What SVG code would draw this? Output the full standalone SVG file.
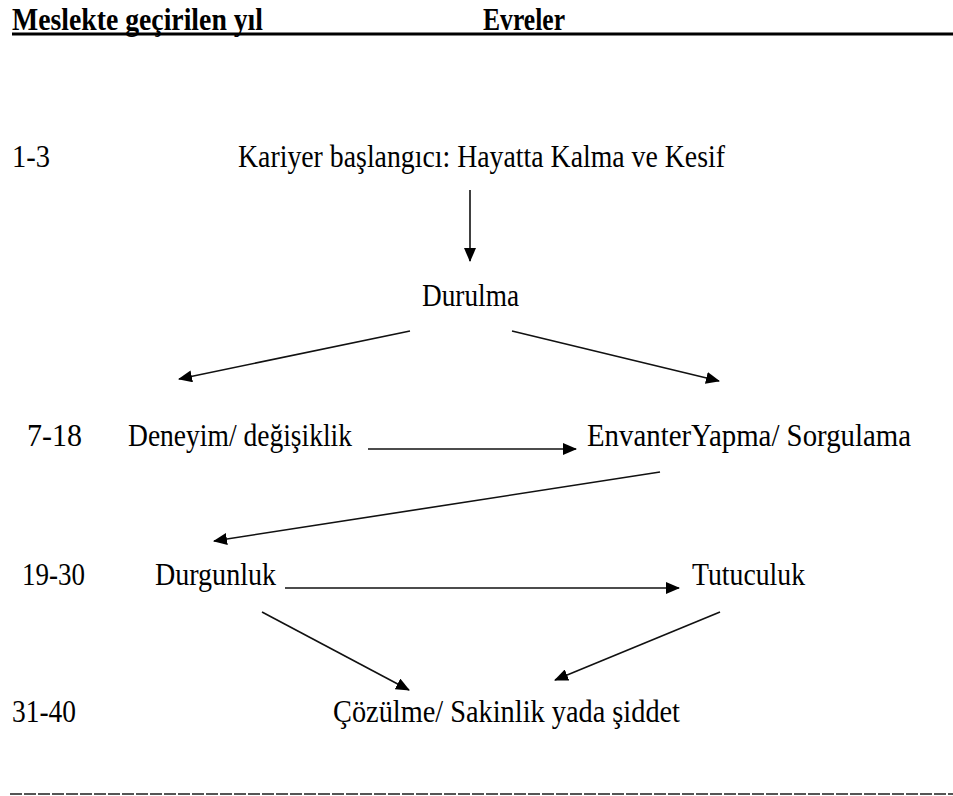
<svg xmlns="http://www.w3.org/2000/svg" width="953" height="796" viewBox="0 0 953 796">
  <style>
    text { font-family: Liberation Serif, Tinos, serif; fill: #000; }
    .t { font-size: 31px; }
    .h { font-size: 32px; font-weight: bold; }
    .c { stroke: #111; stroke-width: 1.6; fill: none; marker-end: url(#ah); }
  </style>
  <defs>
    <marker id="ah" markerWidth="14" markerHeight="12" refX="13" refY="6" orient="auto" markerUnits="userSpaceOnUse">
      <path d="M0,0 L14,6 L0,12 Z" fill="#000"/>
    </marker>
  </defs>
  <rect width="953" height="796" fill="#fff"/>

  <!-- header row -->
  <g id="header" font-family="Liberation Serif">
    <text class="h" x="12" y="30" textLength="251" lengthAdjust="spacingAndGlyphs">Meslekte geçirilen yıl</text>
    <text class="h" x="483" y="30" textLength="82" lengthAdjust="spacingAndGlyphs">Evreler</text>
    <line x1="12" y1="34" x2="953" y2="34" stroke="#000" stroke-width="3"/>
  </g>

  <!-- year labels -->
  <g id="years" font-family="Liberation Serif">
    <text class="t" x="12" y="167" textLength="38" lengthAdjust="spacingAndGlyphs">1-3</text>
    <text class="t" x="27" y="446" textLength="55" lengthAdjust="spacingAndGlyphs">7-18</text>
    <text class="t" x="22" y="585" textLength="63" lengthAdjust="spacingAndGlyphs">19-30</text>
    <text class="t" x="12" y="722" textLength="64" lengthAdjust="spacingAndGlyphs">31-40</text>
  </g>

  <!-- phases -->
  <g id="kariyer" font-family="Liberation Serif">
    <text class="t" x="238" y="167" textLength="487" lengthAdjust="spacingAndGlyphs">Kariyer başlangıcı: Hayatta Kalma ve Kesif</text>
  </g>
  <g id="durulma" font-family="Liberation Serif">
    <text class="t" x="422" y="306" textLength="97" lengthAdjust="spacingAndGlyphs">Durulma</text>
  </g>
  <g id="deneyim" font-family="Liberation Serif">
    <text class="t" x="128" y="446" textLength="224" lengthAdjust="spacingAndGlyphs">Deneyim/ değişiklik</text>
  </g>
  <g id="envanter" font-family="Liberation Serif">
    <text class="t" x="587" y="446" textLength="324" lengthAdjust="spacingAndGlyphs">EnvanterYapma/  Sorgulama</text>
  </g>
  <g id="durgunluk" font-family="Liberation Serif">
    <text class="t" x="155" y="585" textLength="121" lengthAdjust="spacingAndGlyphs">Durgunluk</text>
  </g>
  <g id="tutuculuk" font-family="Liberation Serif">
    <text class="t" x="692" y="585" textLength="113" lengthAdjust="spacingAndGlyphs">Tutuculuk</text>
  </g>
  <g id="cozulme" font-family="Liberation Serif">
    <text class="t" x="333" y="722" textLength="347" lengthAdjust="spacingAndGlyphs">Çözülme/ Sakinlik yada şiddet</text>
  </g>

  <!-- connectors -->
  <g id="connectors">
    <line class="c" x1="470" y1="190" x2="470" y2="261"/>
    <line class="c" x1="410" y1="331" x2="179" y2="379"/>
    <line class="c" x1="512" y1="331" x2="719" y2="381"/>
    <line class="c" x1="368" y1="449" x2="576" y2="449"/>
    <line class="c" x1="660" y1="472" x2="214" y2="541"/>
    <line class="c" x1="285" y1="588" x2="679" y2="588"/>
    <line class="c" x1="262" y1="612" x2="409" y2="690"/>
    <line class="c" x1="720" y1="612" x2="555" y2="680"/>
  </g>

  <!-- closing rule -->
  <g id="footer">
    <line x1="10" y1="794" x2="953" y2="794" stroke="#555" stroke-width="2" stroke-dasharray="12,2"/>
  </g>
</svg>
